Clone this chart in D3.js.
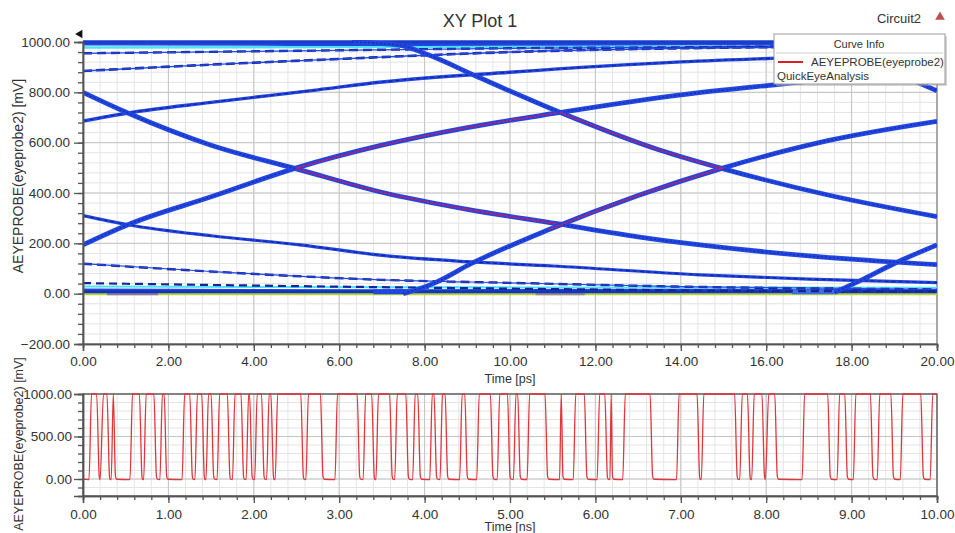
<!DOCTYPE html>
<html><head><meta charset="utf-8">
<script src="https://cdn.jsdelivr.net/npm/d3@7"></script>
<style>
body{margin:0;background:#fff}
svg{display:block}
text{font-family:"Liberation Sans",Arial,sans-serif;fill:#333}
</style>
</head><body>
<svg id="c" width="955" height="533"></svg>
<script>
// ---------------- DATA ----------------
const title = "XY Plot 1";
const designName = "Circuit2";
const yLabel = "AEYEPROBE(eyeprobe2) [mV]";
const eyeXLabel = "Time [ps]";
const waveXLabel = "Time [ns]";
const legendTitle = "Curve Info";
const legendSeries = "AEYEPROBE(eyeprobe2)";
const legendSub = "QuickEyeAnalysis";

const eyeTimeTicks = [0, 2, 4, 6, 8, 10, 12, 14, 16, 18, 20];
const eyeVoltTicks = [-200, 0, 200, 400, 600, 800, 1000];
const waveTimeTicks = [0, 1, 2, 3, 4, 5, 6, 7, 8, 9, 10];
const waveVoltTicks = [0, 500, 1000];

// eye-diagram traces: [time ps, mV]
const riseA = [[7.5,0],[8.2,40],[9.1,120],[10.9,254],[13,390],[15,500],[17.5,610],[20,685]];
const riseB = [[17.6,5],[18.3,60],[19,120],[20,194]];
const riseC = [[0,194],[1.05,274],[3,385],[5,500],[7,590],[9,660],[11.1,718],[14,790],[16.2,830],[18,860],[20,886]];
const riseD = [[0,686],[1.05,718],[3,760],[5.5,810],[7,841],[10,880],[14,921],[17,940],[20,955]];
const riseE = [[0,885],[3,910],[5.5,929],[7,940],[10,960],[14,975],[20,984]];
const riseF = [[0,955],[5,965],[10,975],[15,980],[20,990]];
const fallA = [[6.3,1000],[7.4,988],[8.1,948],[9.2,865],[11.15,722],[13.5,571],[15,496],[17.5,390],[20,306]];
const fallB = [[16.3,1000],[17.4,988],[18.1,948],[19.2,865],[20,806]];
const fallC = [[0,800],[1.05,718],[3,590],[5,496],[7.07,400],[9,335],[11.1,278],[13,226],[14.45,194],[17,150],[20,115]];
const fallD = [[0,310],[1.05,274],[3,230],[5.08,194],[7.07,151],[9,127],[11,110],[14.45,75],[17,58],[20,44]];
const fallE = [[0,119],[3,88],[7,55],[10,43],[14,28],[20,17]];
const fallF = [[0,42],[5,30],[10,20],[15,12],[20,8]];
const topRail1 = [[0,1000],[20,1000]];
const topRail2 = [[0,992],[8,990],[14,993],[20,990]];
const topCyan = [[0,978],[6,980],[12,982],[20,980]];
const lowRail1 = [[0,8],[20,8]];
const lowRail2 = [[0,15],[7,12],[14,14],[20,12]];
const lowCyan = [[0,28],[10,25],[20,24]];
const zeroLine = [[0,0],[20,0]];
const lowFlatA = [[6.8,8],[7.6,8]];
const lowFlatB = [[16.6,8],[17.6,8]];
const greySegA = [[0.56,0],[1.76,0]];
const greySegB = [[10.6,0],[11.75,0]];
// red (latest) overlay on the eye opening
const redUpperL = [[5,500],[7,590],[9,660],[11.1,718]];
const redLowerL = [[5,496],[7.07,400],[9,335],[11.1,278]];
const redUpperR = [[11.15,722],[13.5,571],[15,496]];
const redLowerR = [[10.9,254],[13,390],[15,500]];

// transient waveform: low intervals [start ns, end ns] where signal sits near 0
const lowIntervals = [
 [0.00,0.07],[0.19,0.21],[0.31,0.33],[0.38,0.55],[0.69,0.71],[0.86,0.90],[0.98,1.16],
 [1.28,1.31],[1.42,1.44],[1.53,1.57],[1.72,1.75],[1.88,1.91],[1.98,2.01],[2.12,2.15],[2.23,2.25],
 [2.58,2.61],[2.81,2.95],[3.24,3.28],[3.41,3.43],[3.62,3.65],[3.81,3.86],[3.95,4.06],[4.14,4.18],[4.27,4.41],
 [4.50,4.61],[4.80,4.85],[5.00,5.04],[5.12,5.20],[5.44,5.58],[5.62,5.74],[5.90,6.02],[6.14,6.17],
 [6.20,6.32],[6.67,6.95],[7.22,7.24],[7.66,7.69],[7.81,7.83],[7.98,8.00],[8.13,8.42],[8.75,8.83],
 [8.95,9.02],[9.25,9.30],[9.49,9.57],[9.84,9.92]
];

// ---------------- DRAW ----------------
const svg = d3.select("#c");

const xE = d3.scaleLinear().domain([0, 20]).range([83, 937]);
const yE = d3.scaleLinear().domain([-200, 1000]).range([344, 42]);
const xW = d3.scaleLinear().domain([0, 10]).range([83, 937]);
const yW = d3.scaleLinear().domain([-200, 1000]).range([496, 394]);

function grid(g, x, y, xMinorStep, yMinorStep, xMajor, yMajor) {
  const [x0, x1] = x.domain(), [y0, y1] = y.domain();
  const xm = d3.range(x0, x1 + 1e-9, xMinorStep), ym = d3.range(y0, y1 + 1e-9, yMinorStep);
  g.append("g").selectAll("line").data(xm).join("line")
    .attr("x1", d => x(d)).attr("x2", d => x(d)).attr("y1", y.range()[0]).attr("y2", y.range()[1])
    .attr("stroke", "#e4e4e4").attr("stroke-width", 1);
  g.append("g").selectAll("line").data(ym).join("line")
    .attr("y1", d => y(d)).attr("y2", d => y(d)).attr("x1", x.range()[0]).attr("x2", x.range()[1])
    .attr("stroke", "#e4e4e4").attr("stroke-width", 1);
  g.append("g").selectAll("line").data(xMajor).join("line")
    .attr("x1", d => x(d)).attr("x2", d => x(d)).attr("y1", y.range()[0]).attr("y2", y.range()[1])
    .attr("stroke", "#c4c4c4").attr("stroke-width", 1);
  g.append("g").selectAll("line").data(yMajor).join("line")
    .attr("y1", d => y(d)).attr("y2", d => y(d)).attr("x1", x.range()[0]).attr("x2", x.range()[1])
    .attr("stroke", "#c4c4c4").attr("stroke-width", 1);
}

function axes(x, y, xMinorStep, yMinorStep, xMajor, yMajor, xPad, yPad) {
  const [x0, x1] = x.domain(), [y0, y1] = y.domain();
  const fmt = d3.format(".2f");
  const gx = svg.append("g").attr("transform", `translate(0,${y.range()[0]})`);
  gx.call(d3.axisBottom(x).tickValues(d3.range(x0, x1 + 1e-9, xMinorStep)).tickSize(4).tickFormat(""));
  gx.append("g").call(d3.axisBottom(x).tickValues(xMajor).tickSize(7).tickPadding(xPad).tickFormat(fmt));
  const gy = svg.append("g").attr("transform", `translate(${x.range()[0]},0)`);
  gy.call(d3.axisLeft(y).tickValues(d3.range(y0, y1 + 1e-9, yMinorStep)).tickSize(5).tickFormat(""));
  gy.append("g").call(d3.axisLeft(y).tickValues(yMajor).tickSize(9).tickPadding(yPad).tickFormat(fmt));
  svg.selectAll(".domain").attr("stroke", "#555").attr("stroke-width", 1.5);
  svg.selectAll(".tick line").attr("stroke", "#555").attr("stroke-width", 1.3);
  svg.selectAll(".tick text").attr("font-size", 13.5).attr("fill", "#3a3a3a")
    .attr("font-family", "'Liberation Sans',Arial,sans-serif");
}

// ---- Eye plot ----
const gE = svg.append("g");
grid(gE, xE, yE, 0.4, 40, eyeTimeTicks, eyeVoltTicks);

svg.append("clipPath").attr("id", "clipE").append("rect")
  .attr("x", 83).attr("y", 40).attr("width", 854).attr("height", 304);
const lineE = d3.line().x(d => xE(d[0])).y(d => yE(d[1])).curve(d3.curveMonotoneX);
const traces = svg.append("g").attr("clip-path", "url(#clipE)");
function tr(data, color, w, dash) {
  const p = traces.append("path").datum(data).attr("d", lineE).attr("fill", "none")
    .attr("stroke", color).attr("stroke-width", w).attr("stroke-linecap", "butt");
  if (dash) p.attr("stroke-dasharray", dash);
  return p;
}
const BLUE = "#2147e0", DARK = "#17239a", CYAN = "#4fe3f2";
tr(zeroLine, "#b5d33a", 3);
tr(greySegA, "#8a7aa8", 3);
tr(greySegB, "#9a8a90", 3);
tr(lowCyan, CYAN, 2);
tr(lowRail2, BLUE, 3);
tr(lowRail1, "#1535b8", 3);
tr(lowFlatA, BLUE, 5);
tr(lowFlatB, "#3d6fe0", 5);
tr(fallF, DARK, 2.2, "8,5");
tr(fallE, DARK, 2.4, "9,5");
tr(fallE, BLUE, 1.2);
tr(topCyan, CYAN, 2.5);
tr(topRail2, BLUE, 3);
tr(topRail1, "#1a3ccc", 3.5);
tr(riseF, DARK, 2.4, "9,5");
tr(riseF, BLUE, 1.2);
tr(riseE, DARK, 2.6, "9,4");
tr(riseE, BLUE, 1.4);
tr(fallD, BLUE, 3.2);
tr(fallD, DARK, 1.2, "4,3");
tr(riseD, BLUE, 3.4);
tr(riseD, DARK, 1.2, "4,3");
[riseA, riseB, riseC, fallA, fallB, fallC].forEach(d => {
  tr(d, BLUE, 4.8);
  tr(d, "#1a2fb0", 1.4, "2,2");
});
[redUpperL, redLowerL, redUpperR, redLowerR].forEach(d => tr(d, "#c8206a", 1.6).attr("opacity", 0.75));

gE.append("rect").attr("x", 83).attr("y", 42).attr("width", 854).attr("height", 302)
  .attr("fill", "none").attr("stroke", "#777").attr("stroke-width", 1);
axes(xE, yE, 0.4, 40, eyeTimeTicks, eyeVoltTicks, 5, 4);
svg.append("path").attr("d", d3.symbol(d3.symbolTriangle, 30)()).attr("fill", "#111")
  .attr("transform", "translate(80,34) rotate(-90)");

// ---- Transient plot ----
const gW = svg.append("g");
grid(gW, xW, yW, 0.2, 100, waveTimeTicks, waveVoltTicks);
gW.append("rect").attr("x", 83).attr("y", 394).attr("width", 854).attr("height", 102)
  .attr("fill", "none").attr("stroke", "#666").attr("stroke-width", 1.5);

const edge = 0.03, LOW = -8, HIGH = 1000;
const wavePts = [];
lowIntervals.forEach((iv, i) => {
  const [a, b] = iv;
  if (i === 0) { wavePts.push([0, LOW]); }
  else {
    const prevEnd = lowIntervals[i - 1][1];
    const gap = a - prevEnd;
    if (gap > 2 * edge) { wavePts.push([prevEnd + edge, HIGH]); wavePts.push([a - edge, HIGH]); }
    else { wavePts.push([(prevEnd + a) / 2, HIGH]); }
    wavePts.push([a, LOW + 40]);
  }
  if (b - a > 0.02) { wavePts.push([a + Math.min(0.015,(b-a)/3), LOW + 5]); wavePts.push([b, LOW]); }
  else wavePts.push([(a + b) / 2, LOW]);
});
const lastEnd = lowIntervals[lowIntervals.length - 1][1];
wavePts.push([lastEnd + edge, HIGH]);
wavePts.push([10, HIGH]);

const lineW = d3.line().x(d => xW(d[0])).y(d => yW(d[1])).curve(d3.curveMonotoneX);
svg.append("path").datum(wavePts).attr("d", lineW).attr("fill", "none")
  .attr("stroke", "#e0363c").attr("stroke-width", 1.3);
axes(xW, yW, 0.2, 100, waveTimeTicks, waveVoltTicks, 6, 2);

// ---- texts ----
svg.append("text").attr("x", 480).attr("y", 27).attr("text-anchor", "middle")
  .attr("font-size", 18).attr("fill", "#222").text(title);
svg.append("text").attr("x", 921).attr("y", 23).attr("text-anchor", "end")
  .attr("font-size", 13).attr("fill", "#333").text(designName);
svg.append("path").attr("d", d3.symbol(d3.symbolTriangle, 40)()).attr("fill", "#c0504d")
  .attr("transform", "translate(940,17)");
svg.append("text").attr("transform", "translate(23,176) rotate(-90)").attr("text-anchor", "middle")
  .attr("font-size", 14).attr("fill", "#333").text(yLabel);
svg.append("text").attr("transform", "translate(23,444) rotate(-90)").attr("text-anchor", "middle")
  .attr("font-size", 12.5).attr("fill", "#333").text(yLabel);
svg.append("text").attr("x", 510).attr("y", 383).attr("text-anchor", "middle")
  .attr("font-size", 12.5).text(eyeXLabel);
svg.append("text").attr("x", 510).attr("y", 531).attr("text-anchor", "middle")
  .attr("font-size", 12.5).text(waveXLabel);

// ---- legend ----
const lg = svg.append("g");
lg.append("rect").attr("x", 776).attr("y", 36).attr("width", 171).attr("height", 50).attr("fill", "#aaa").attr("opacity", 0.5);
lg.append("rect").attr("x", 774).attr("y", 34).attr("width", 171).attr("height", 50)
  .attr("fill", "#fff").attr("stroke", "#999").attr("stroke-width", 1);
lg.append("line").attr("x1", 776).attr("x2", 943).attr("y1", 53).attr("y2", 53).attr("stroke", "#ccc");
lg.append("text").attr("x", 859).attr("y", 48).attr("text-anchor", "middle").attr("font-size", 11).text(legendTitle);
lg.append("line").attr("x1", 778).attr("x2", 803).attr("y1", 62).attr("y2", 62).attr("stroke", "#e02020").attr("stroke-width", 2);
lg.append("text").attr("x", 811).attr("y", 66).attr("font-size", 11.5).text(legendSeries);
lg.append("text").attr("x", 777).attr("y", 80).attr("font-size", 11.5).text(legendSub);
</script>
</body></html>
